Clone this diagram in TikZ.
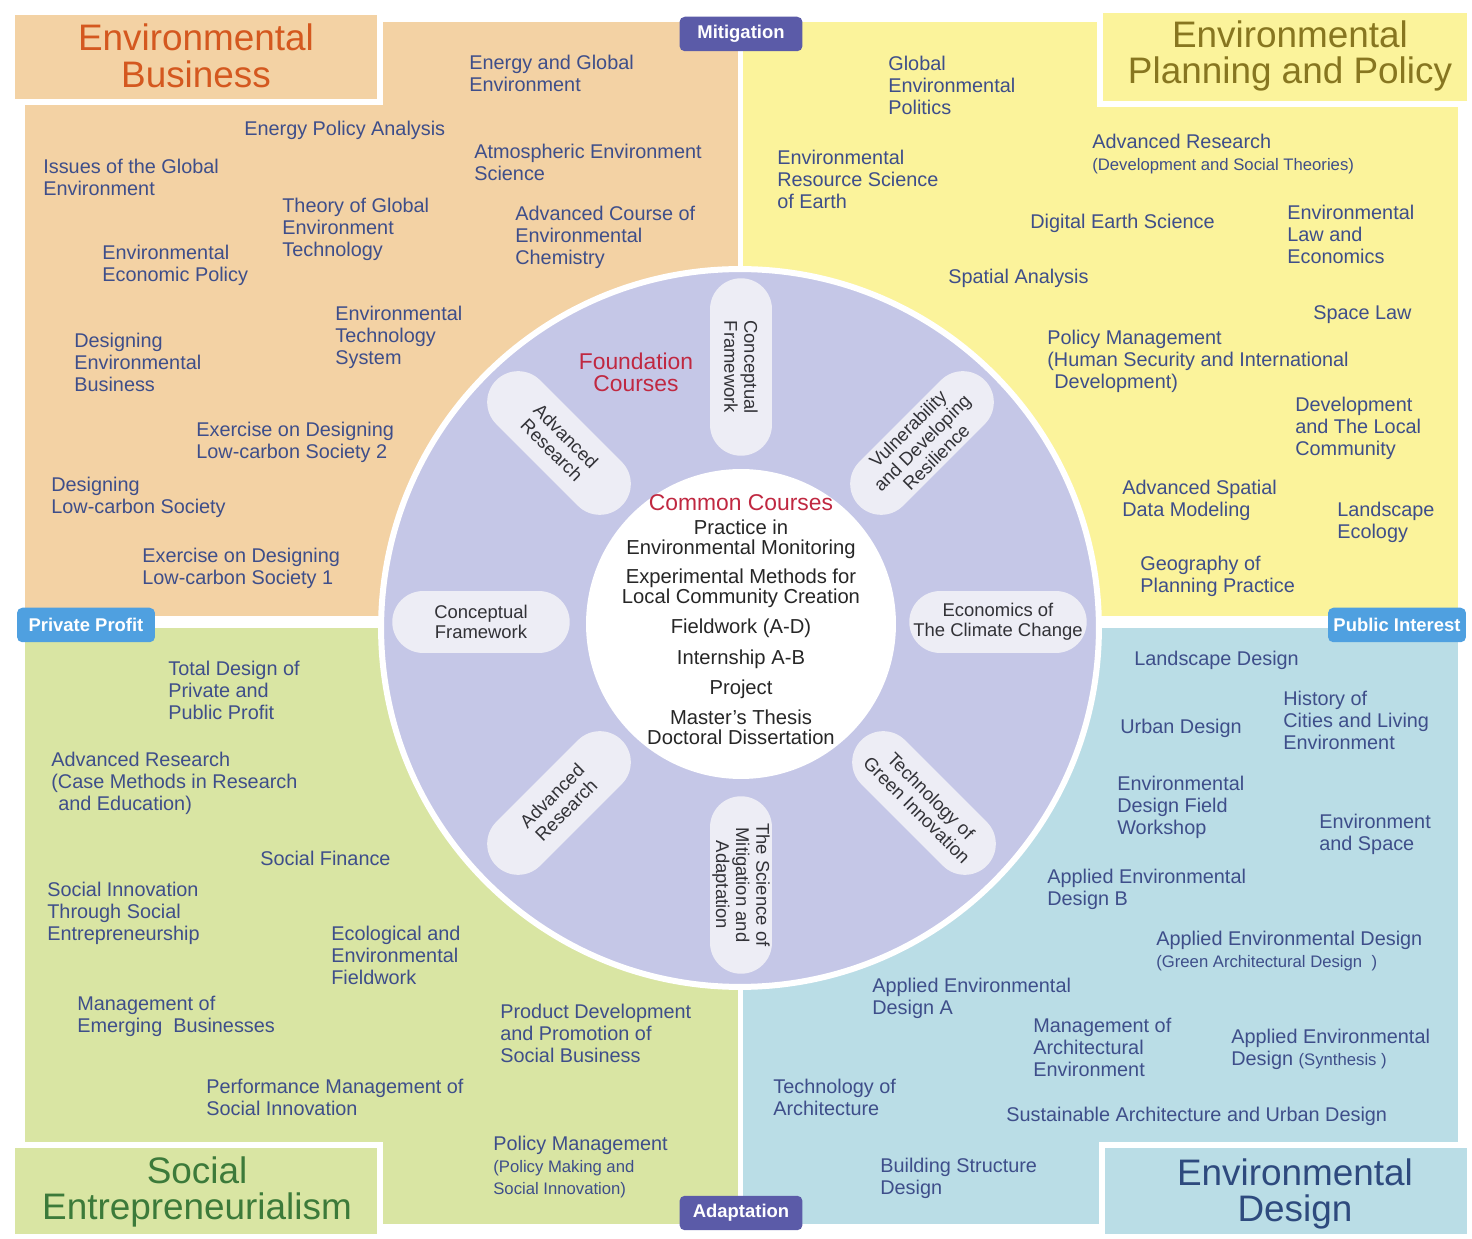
\documentclass[tikz,border=0pt]{standalone}
\usepackage{fontspec}
\setmainfont{Liberation Sans}
\definecolor{ebfill}{RGB}{243,210,164}
\definecolor{epfill}{RGB}{251,243,155}
\definecolor{sefill}{RGB}{217,229,163}
\definecolor{edfill}{RGB}{186,221,230}
\definecolor{ringfill}{RGB}{197,199,231}
\definecolor{pillfill}{RGB}{237,237,245}
\definecolor{pilltext}{RGB}{50,50,55}
\definecolor{polefill}{RGB}{91,91,168}
\definecolor{sidefill}{RGB}{79,160,224}
\definecolor{coursetext}{RGB}{62,78,138}
\definecolor{corered}{RGB}{192,40,65}
\definecolor{ebtitle}{RGB}{212,88,31}
\definecolor{eptitle}{RGB}{135,118,32}
\definecolor{setitle}{RGB}{60,122,58}
\definecolor{edtitle}{RGB}{46,74,126}
\newcommand\notesize{\fontsize{9.5}{11}\selectfont}

\begin{document}
\begin{tikzpicture}
        [x=0.02cm, y=-0.02cm,
        course/.style={anchor=north west, inner sep=0, align=left, text=coursetext, font=\fontsize{11.3}{12.5}\selectfont},
        areatitle/.style={align=center, inner sep=0, font=\fontsize{21}{21}\selectfont},
        pill/.style={rectangle, rounded corners=0.62cm, fill=pillfill, minimum width=3.55cm, minimum height=1.24cm, align=center, inner sep=0, text=pilltext, font=\fontsize{10.5}{11.4}\selectfont},
        poletag/.style={rectangle, rounded corners=3pt, text=white, inner sep=0, minimum height=0.69cm, font=\bfseries\fontsize{10.5}{12}\selectfont}]

        \useasboundingbox (0,0) rectangle (1472,1239);
        \fill[white] (0,0) rectangle (1472,1239);

        \fill[ebfill] (25,22) rectangle (738,616);
        \fill[epfill] (743,22) rectangle (1458,616);
        \fill[sefill] (25,628) rectangle (738,1224);
        \fill[edfill] (743,628) rectangle (1458,1224);

        \draw[fill=ebfill, draw=white, line width=0.12cm] (12,12) rectangle (380,102);
        \draw[fill=epfill, draw=white, line width=0.12cm] (1100,10) rectangle (1470,104);
        \draw[fill=sefill, draw=white, line width=0.12cm] (12,1145) rectangle (380,1237);
        \draw[fill=edfill, draw=white, line width=0.12cm] (1102,1145) rectangle (1470,1237);

        \node[areatitle, text=ebtitle] (t1) at (196,56) {Environmental\\Business};
        \node[areatitle, text=eptitle] (t2) at (1290,56) {Environmental\\Planning and Policy};
        \node[areatitle, text=setitle] (t3) at (197,1192) {Social\\Entrepreneurialism};
        \node[areatitle, text=edtitle] (t4) at (1295,1194) {Environmental\\Design};

        \draw[fill=ringfill, draw=white, line width=0.12cm] (740,628) circle [radius=7.18cm];
        \node[circle, fill=white, inner sep=0, minimum size=6.2cm] (core) at (741,624) {};

        \node[pill, rotate=-90] (f1) at (741,367) {Conceptual\\Framework};
        \node[pill, rotate=45] (f2) at (922,443) {Vulnerability\\and Developing\\Resilience};
        \node[pill] (f3) at (998,622) {Economics of\\The Climate Change};
        \node[pill, rotate=-45] (f4) at (924,803) {Technology of\\Green Innovation};
        \node[pill, rotate=-90] (f5) at (741,885) {The Science of\\Mitigation and\\Adaptation};
        \node[pill, rotate=45] (f6) at (559,803) {Advanced\\Research};
        \node[pill] (f7) at (481,622) {Conceptual\\Framework};
        \node[pill, rotate=-45] (f8) at (559,443) {Advanced\\Research};

        \node[align=center, inner sep=0, text=corered, font=\fontsize{13}{12.5}\selectfont] (fc) at (636,372) {Foundation\\Courses};
        \node[inner sep=0, text=corered, font=\fontsize{13}{13}\selectfont] (cc) at (741,503) {Common Courses};
        \node[anchor=north, align=center, inner sep=0, text=black!85, font=\fontsize{11.5}{11.2}\selectfont] (cl) at (741,520)
                {Practice in\\Environmental Monitoring\\[5.4pt]Experimental Methods for\\Local Community Creation\\[5.9pt]Fieldwork (A-D)\\[6.4pt]Internship A-B\\[5.9pt]Project\\[5.9pt]Master's Thesis\\Doctoral Dissertation};

        \node[poletag, fill=polefill, minimum width=2.46cm] (mit) at (741,34) {Mitigation};
        \node[poletag, fill=polefill, minimum width=2.46cm] (ada) at (741,1213) {Adaptation};
        \node[poletag, fill=sidefill, minimum width=2.76cm] (pp) at (86,625) {Private Profit};
        \node[poletag, fill=sidefill, minimum width=2.76cm] (pi) at (1397,625) {Public Interest};

        \node[course] (b1) at (469,55) {Energy and Global\\Environment};
        \node[course] (b2) at (244,121) {Energy Policy Analysis};
        \node[course] (b3) at (474,144) {Atmospheric Environment\\Science};
        \node[course] (b4) at (43,159) {Issues of the Global\\Environment};
        \node[course] (b5) at (282,198) {Theory of Global\\Environment\\Technology};
        \node[course] (b6) at (515,206) {Advanced Course of\\Environmental\\Chemistry};
        \node[course] (b7) at (102,245) {Environmental\\Economic Policy};
        \node[course] (b8) at (335,306) {Environmental\\Technology\\System};
        \node[course] (b9) at (74,333) {Designing\\Environmental\\Business};
        \node[course] (b10) at (196,422) {Exercise on Designing\\Low-carbon Society 2};
        \node[course] (b11) at (51,477) {Designing\\Low-carbon Society};
        \node[course] (b12) at (142,548) {Exercise on Designing\\Low-carbon Society 1};

        \node[course] (p1) at (888,56) {Global\\Environmental\\Politics};
        \node[course] (p2) at (1092,134) {Advanced Research\\{\notesize (Development and Social Theories)}};
        \node[course] (p3) at (777,150) {Environmental\\Resource Science\\of Earth};
        \node[course] (p4) at (1030,214) {Digital Earth Science};
        \node[course] (p5) at (1287,205) {Environmental\\Law and\\Economics};
        \node[course] (p6) at (948,269) {Spatial Analysis};
        \node[course] (p7) at (1313,305) {Space Law};
        \node[course] (p8) at (1047,330) {Policy Management\\(Human Security and International\\\hspace{4pt}Development)};
        \node[course] (p9) at (1295,397) {Development\\and The Local\\Community};
        \node[course] (p10) at (1122,480) {Advanced Spatial\\Data Modeling};
        \node[course] (p11) at (1337,502) {Landscape\\Ecology};
        \node[course] (p12) at (1140,556) {Geography of\\Planning Practice};

        \node[course] (s1) at (168,661) {Total Design of\\Private and\\Public Profit};
        \node[course] (s2) at (51,752) {Advanced Research\\(Case Methods in Research\\\hspace{4pt}and Education)};
        \node[course] (s3) at (260,851) {Social Finance};
        \node[course] (s4) at (47,882) {Social Innovation\\Through Social\\Entrepreneurship};
        \node[course] (s5) at (331,926) {Ecological and\\Environmental\\Fieldwork};
        \node[course] (s6) at (77,996) {Management of\\Emerging\ \ Businesses};
        \node[course] (s7) at (500,1004) {Product Development\\and Promotion of\\Social Business};
        \node[course] (s8) at (206,1079) {Performance Management of\\Social Innovation};
        \node[course] (s9) at (493,1136) {Policy Management\\{\notesize (Policy Making and}\\{\notesize Social Innovation)}};

        \node[course] (d1) at (1134,651) {Landscape Design};
        \node[course] (d2) at (1283,691) {History of\\Cities and Living\\Environment};
        \node[course] (d3) at (1120,719) {Urban Design};
        \node[course] (d4) at (1117,776) {Environmental\\Design Field\\Workshop};
        \node[course] (d5) at (1319,814) {Environment\\and Space};
        \node[course] (d6) at (1047,869) {Applied Environmental\\Design B};
        \node[course] (d7) at (1156,931) {Applied Environmental Design\\{\notesize (Green Architectural Design\ \ )}};
        \node[course] (d8) at (872,978) {Applied Environmental\\Design A};
        \node[course] (d9) at (1033,1018) {Management of\\Architectural\\Environment};
        \node[course] (d10) at (1231,1029) {Applied Environmental\\Design {\notesize (Synthesis )}};
        \node[course] (d11) at (773,1079) {Technology of\\Architecture};
        \node[course] (d12) at (1006,1107) {Sustainable Architecture and Urban Design};
        \node[course] (d13) at (880,1158) {Building Structure\\Design};

      \end{tikzpicture}
\end{document}
